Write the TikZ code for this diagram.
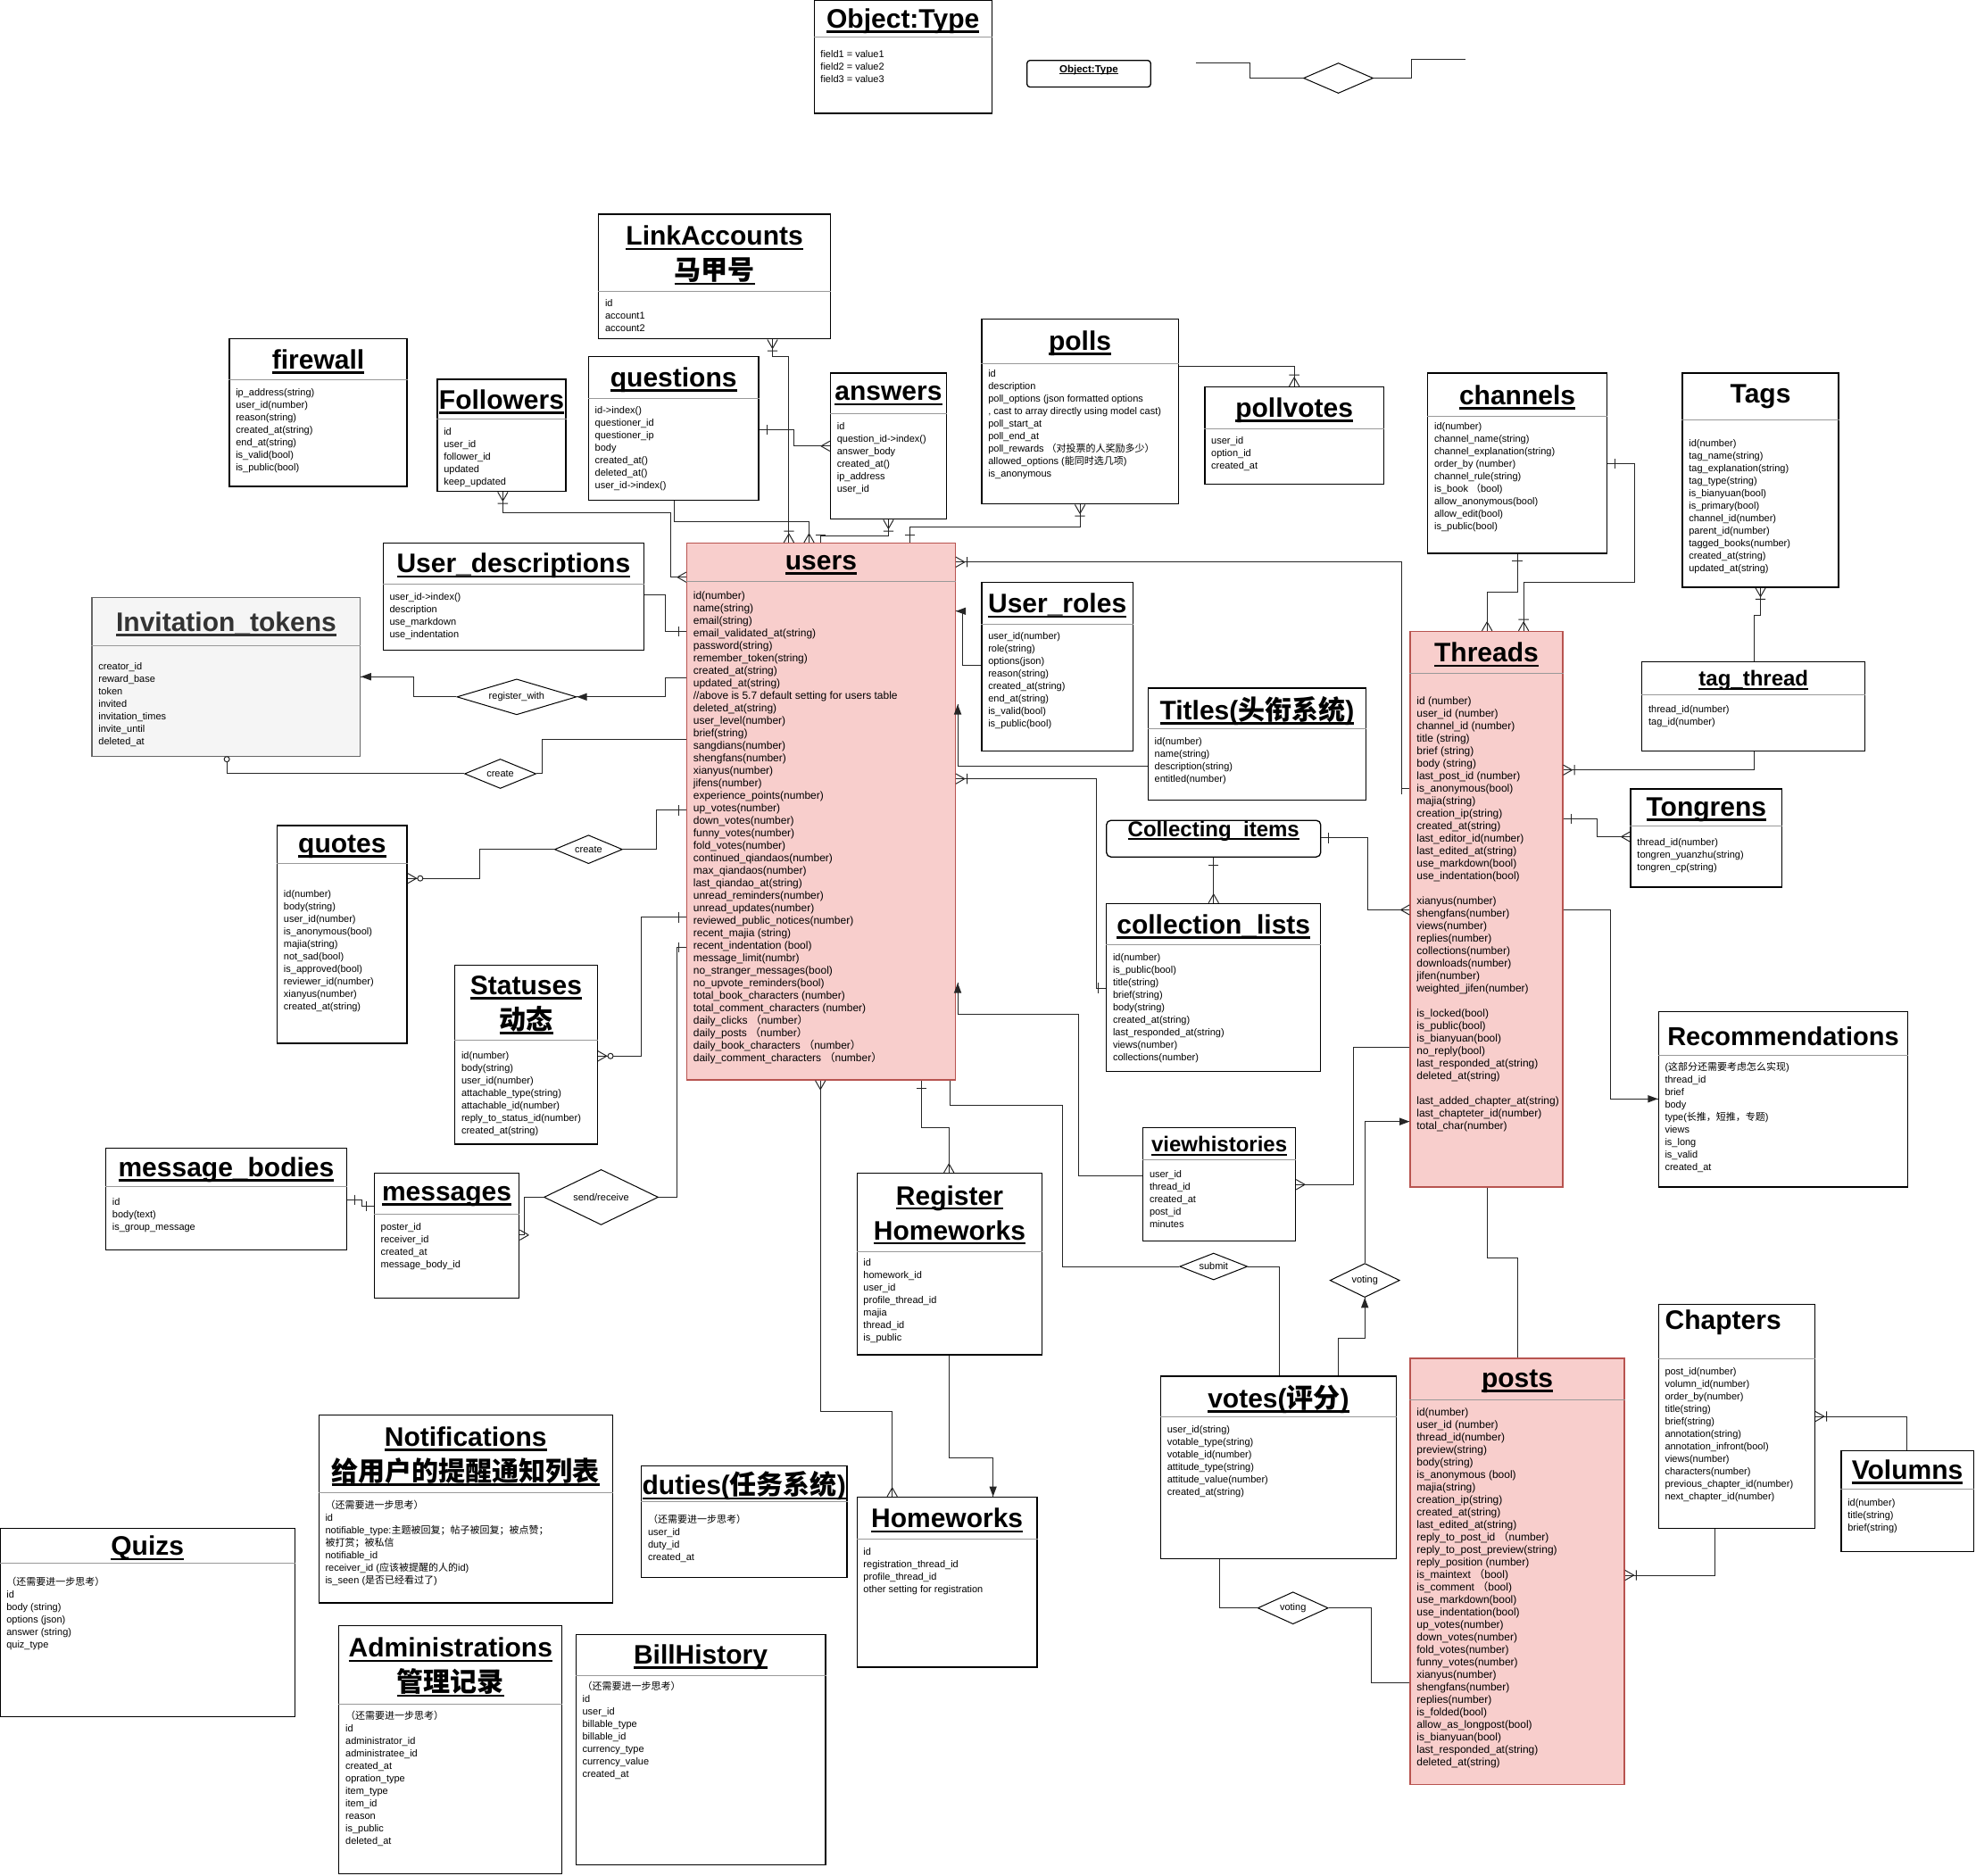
\documentclass[tikz,border=0pt]{standalone}
\usepackage{fontspec}
\setmainfont{Liberation Sans}
\newfontfamily\cjk{Noto Sans CJK SC}
\usetikzlibrary{shapes.geometric,fit,calc}

\definecolor{pinkfill}{HTML}{F8CECC}
\definecolor{pinkline}{HTML}{B85450}
\definecolor{greyfill}{HTML}{F5F5F5}
\definecolor{greyline}{HTML}{666666}

% thick underline for table titles
\newcommand{\tul}[1]{\setbox0=\hbox{#1}\rlap{\vrule width\wd0 height-0.09em depth0.18em}\box0}

\tikzset{
  entbox/.style={draw=black, line width=1.3pt, fill=white, inner sep=0pt},
  headline/.style={draw=black!40, line width=1pt},
  enttitle/.style={font=\bfseries\fontsize{30}{39}\selectfont, align=center, inner sep=0pt, yshift=-3pt},
  entfields/.style={anchor=north west, align=left, inner sep=0pt, font=\fontsize{11}{14}\selectfont},
  pinkent/.style={entbox/.append style={fill=pinkfill, draw=pinkline},
    entfields/.append style={font=\fontsize{12}{14}\selectfont}},
  greyent/.style={entbox/.append style={fill=greyfill, draw=greyline},
    enttitle/.append style={text=black!80}},
  midtitle/.style={enttitle/.append style={font=\bfseries\fontsize{24}{30}\selectfont}},
  rectitle/.style={enttitle/.append style={font=\bfseries\fontsize{29}{34}\selectfont}},
  sidetitle/.style={enttitle/.append style={xshift=-15pt, yshift=13pt}},
  tagtitle/.style={enttitle/.append style={yshift=3pt}},
  rel/.style={diamond, aspect=3, draw=black, line width=1pt, fill=white, inner sep=0pt, font=\fontsize{11}{13}\selectfont},
  conn/.style={draw=black!85, line width=1pt},
  pics/many/.style={code={\draw[conn] (7,0) -- (0,4) (7,0) -- (0,-4);}},
  pics/one/.style={code={\draw[conn] (6,-4) -- (6,4);}},
  pics/onemany/.style={code={\draw[conn] (7,0) -- (0,4) (7,0) -- (0,-4) (9,-4) -- (9,4);}},
  pics/zeromany/.style={code={\draw[conn] (7,0) -- (0,4) (7,0) -- (0,-4);
    \draw[conn, fill=white] (10,0) circle[radius=3pt];}},
  pics/zero/.style={code={\draw[conn, fill=white] (2,0) circle[radius=3pt];}},
  pics/arr/.style={code={\fill[black!85] (0,0) -- (8,3) -- (8,-3) -- cycle;}}
}

% [style]{name}{corners}{header height}{field offset}{title}{fields}
\newcommand{\erbox}[7][]{%
  \begin{scope}[#1]
    \node[entbox, fit={#3}] (#2) {};
    \draw[headline] ($(#2.north west)+(0,#4)$) -- ($(#2.north east)+(0,#4)$);
    \node[enttitle] (#2-t) at ($(#2.north)+(0,#4/2)$) {#6};
    \node[entfields] (#2-f) at ($(#2.north west)+(5.5,#4+#5)$) {#7};
  \end{scope}}

\begin{document}
\catcode`\_=12
\begin{tikzpicture}[x=1.412pt, y=-1.412pt]
\path[use as bounding box, fill=white] (0,0) rectangle (1568,1488);

% legend
\erbox{objtype}{(646,0) (787,90)}{30}{10}{\tul{Object:Type}}{field1 = value1\\field2 = value2\\field3 = value3}
\node[entbox, rounded corners=3pt, fit={(815,48) (913,69)}, font=\bfseries\fontsize{11.5}{14}\selectfont] (smallobj) {\tul{Object:Type}};
\node[rel, minimum width=78pt, minimum height=34pt] (objrel) at (1062,62) {};
\coordinate (objl) at (949,50);
\coordinate (objr) at (1163,47);

% tables
\erbox{linkacc}{(475,170) (659,269)}{62}{6}{\tul{LinkAccounts}\\\tul{\cjk 马甲号}}{id\\account1\\account2}
\erbox{firewall}{(182,269) (323,386)}{33}{7}{\tul{firewall}}{ip_address(string)\\user_id(number)\\reason(string)\\created_at(string)\\end_at(string)\\is_valid(bool)\\is_public(bool)}
\erbox{followers}{(347,301) (449,390)}{32}{7}{\tul{Followers}}{id\\user_id\\follower_id\\updated\\keep_updated}
\erbox{questions}{(467,283) (602,397)}{34}{6}{\tul{questions}}{id->index()\\questioner_id\\questioner_ip\\body\\created_at()\\deleted_at()\\user_id->index()}
\erbox{answers}{(659,296) (751,412)}{33}{7}{\tul{answers}}{id\\question_id->index()\\answer_body\\created_at()\\ip_address\\user_id}
\erbox{polls}{(779,253) (935,400)}{36}{5}{\tul{polls}}{id\\description\\poll_options (json formatted options\\, cast to array directly using model cast)\\poll_start_at\\poll_end_at\\poll_rewards {\cjk （对投票的人奖励多少）}\\allowed_options ({\cjk 能同时选几项})\\is_anonymous}
\erbox{pollvotes}{(956,307) (1098,384)}{34}{6}{\tul{pollvotes}}{user_id\\option_id\\created_at}
\erbox{channels}{(1133,296) (1275,439)}{35}{5}{\tul{channels}}{id(number)\\channel_name(string)\\channel_explanation(string)\\order_by (number)\\channel_rule(string)\\is_book {\cjk （}bool)\\allow_anonymous(bool)\\allow_edit(bool)\\is_public(bool)}
\erbox[tagtitle]{tags}{(1335,296) (1459,466)}{38}{15}{Tags}{id(number)\\tag_name(string)\\tag_explanation(string)\\tag_type(string)\\is_bianyuan(bool)\\is_primary(bool)\\channel_id(number)\\parent_id(number)\\tagged_books(number)\\created_at(string)\\updated_at(string)}
\erbox[pinkent]{users}{(545,431) (758,857)}{31}{8}{\tul{users}}{id(number)\\name(string)\\email(string)\\email_validated_at(string)\\password(string)\\remember_token(string)\\created_at(string)\\updated_at(string)\\//above is 5.7 default setting for users table\\deleted_at(string)\\user_level(number)\\brief(string)\\sangdians(number)\\shengfans(number)\\xianyus(number)\\jifens(number)\\experience_points(number)\\up_votes(number)\\down_votes(number)\\funny_votes(number)\\fold_votes(number)\\continued_qiandaos(number)\\max_qiandaos(number)\\last_qiandao_at(string)\\unread_reminders(number)\\unread_updates(number)\\reviewed_public_notices(number)\\recent_majia (string)\\recent_indentation (bool)\\message_limit(numbr)\\no_stranger_messages(bool)\\no_upvote_reminders(bool)\\total_book_characters (number)\\total_comment_characters (number)\\daily_clicks {\cjk （}number{\cjk ）}\\daily_posts {\cjk （}number{\cjk ）}\\daily_book_characters {\cjk （}number{\cjk ）}\\daily_comment_characters {\cjk （}number{\cjk ）}}
\erbox{userdesc}{(304,431) (511,516)}{33}{7}{\tul{User_descriptions}}{user_id->index()\\description\\use_markdown\\use_indentation}
\erbox[greyent]{invite}{(73,474) (286,600)}{39}{13}{\tul{Invitation_tokens}}{creator_id\\reward_base\\token\\invited\\invitation_times\\invite_until\\deleted_at}
\erbox{userroles}{(779,462) (899,596)}{34}{6}{\tul{User_roles}}{user_id(number)\\role(string)\\options(json)\\reason(string)\\created_at(string)\\end_at(string)\\is_valid(bool)\\is_public(bool)}
\erbox{titles}{(911,546) (1084,635)}{33}{7}{\tul{Titles({\cjk 头衔系统})}}{id(number)\\name(string)\\description(string)\\entitled(number)}
\erbox[pinkent]{threads}{(1119,501) (1240,942)}{34}{18}{\tul{Threads}}{id (number)\\user_id (number)\\channel_id (number)\\title (string)\\brief (string)\\body (string)\\last_post_id (number)\\is_anonymous(bool)\\majia(string)\\creation_ip(string)\\created_at(string)\\last_editor_id(number)\\last_edited_at(string)\\use_markdown(bool)\\use_indentation(bool)\\[14pt]xianyus(number)\\shengfans(number)\\views(number)\\replies(number)\\collections(number)\\downloads(number)\\jifen(number)\\weighted_jifen(number)\\[14pt]is_locked(bool)\\is_public(bool)\\is_bianyuan(bool)\\no_reply(bool)\\last_responded_at(string)\\deleted_at(string)\\[14pt]last_added_chapter_at(string)\\last_chapteter_id(number)\\total_char(number)}
\erbox[midtitle]{tagthread}{(1303,525) (1480,596)}{27}{8}{\tul{tag_thread}}{thread_id(number)\\tag_id(number)}
\erbox{tongrens}{(1294,626) (1414,704)}{30}{10}{\tul{Tongrens}}{thread_id(number)\\tongren_yuanzhu(string)\\tongren_cp(string)}
\node[entbox, rounded corners=5pt, fit={(878,651) (1048,680)}, font=\bfseries\fontsize{24}{30}\selectfont] (collecting) {\tul{Collecting_items}};
\erbox{colllists}{(878,717) (1048,850)}{33}{7}{\tul{collection_lists}}{id(number)\\is_public(bool)\\title(string)\\brief(string)\\body(string)\\created_at(string)\\last_responded_at(string)\\views(number)\\collections(number)}
\erbox{quotes}{(220,655) (323,828)}{31}{21}{\tul{quotes}}{id(number)\\body(string)\\user_id(number)\\is_anonymous(bool)\\majia(string)\\not_sad(bool)\\is_approved(bool)\\reviewer_id(number)\\xianyus(number)\\created_at(string)}
\erbox{statuses}{(361,766) (474,908)}{60}{9}{\tul{Statuses}\\\tul{\cjk 动态}}{id(number)\\body(string)\\user_id(number)\\attachable_type(string)\\attachable_id(number)\\reply_to_status_id(number)\\created_at(string)}
\erbox[rectitle]{recomm}{(1316,803) (1514,942)}{35}{5}{Recommendations}{({\cjk 这部分还需要考虑怎么实现})\\thread_id\\brief\\body\\type({\cjk 长推，短推，专题})\\views\\is_long\\is_valid\\created_at}
\erbox[midtitle]{viewhist}{(907,895) (1028,985)}{26}{8}{\tul{viewhistories}}{user_id\\thread_id\\created_at\\post_id\\minutes}
\erbox{msgbodies}{(84,911) (275,992)}{31}{9}{\tul{message_bodies}}{id\\body(text)\\is_group_message}
\erbox{messages}{(297,931) (412,1030)}{33}{7}{\tul{messages}}{poster_id\\receiver_id\\created_at\\message_body_id}
\erbox{reghw}{(680,931) (827,1075)}{63}{5}{\tul{Register}\\\tul{Homeworks}}{id\\homework_id\\user_id\\profile_thread_id\\majia\\thread_id\\is_public}
\erbox{votes}{(921,1092) (1108,1237)}{33}{7}{\tul{votes({\cjk 评分})}}{user_id(string)\\votable_type(string)\\votable_id(number)\\attitude_type(string)\\attitude_value(number)\\created_at(string)}
\erbox[pinkent]{posts}{(1119,1078) (1289,1416)}{33}{7}{\tul{posts}}{id(number)\\user_id (number)\\thread_id(number)\\preview(string)\\body(string)\\is_anonymous (bool)\\majia(string)\\creation_ip(string)\\created_at(string)\\last_edited_at(string)\\reply_to_post_id {\cjk （}number)\\reply_to_post_preview(string)\\reply_position (number)\\is_maintext {\cjk （}bool)\\is_comment {\cjk （}bool)\\use_markdown(bool)\\use_indentation(bool)\\up_votes(number)\\down_votes(number)\\fold_votes(number)\\funny_votes(number)\\xianyus(number)\\shengfans(number)\\replies(number)\\is_folded(bool)\\allow_as_longpost(bool)\\is_bianyuan(bool)\\last_responded_at(string)\\deleted_at(string)}
\erbox[sidetitle]{chapters}{(1316,1035) (1440,1213)}{44}{7}{Chapters}{post_id(number)\\volumn_id(number)\\order_by(number)\\title(string)\\brief(string)\\annotation(string)\\annotation_infront(bool)\\views(number)\\characters(number)\\previous_chapter_id(number)\\next_chapter_id(number)}
\erbox{volumns}{(1461,1151) (1566,1231)}{31}{8}{\tul{Volumns}}{id(number)\\title(string)\\brief(string)}
\erbox{notif}{(253,1123) (486,1272)}{62}{6}{\tul{Notifications}\\\tul{\cjk 给用户的提醒通知列表}}{{\cjk （还需要进一步思考）}\\id\\notifiable_type:{\cjk 主题被回复；帖子被回复；被点赞；}\\{\cjk 被打赏；被私信}\\notifiable_id\\receiver_id ({\cjk 应该被提醒的人的}id)\\is_seen ({\cjk 是否已经看过了})}
\erbox{quizs}{(0,1213) (234,1362)}{28}{11}{\tul{Quizs}}{{\cjk （还需要进一步思考）}\\id\\body (string)\\options (json)\\answer (string)\\quiz_type}
\erbox{duties}{(509,1163) (672,1252)}{29}{10}{\tul{duties({\cjk 任务系统})}}{{\cjk （还需要进一步思考）}\\user_id\\duty_id\\created_at}
\erbox{homeworks}{(680,1188) (823,1323)}{34}{7}{\tul{Homeworks}}{id\\registration_thread_id\\profile_thread_id\\other setting for registration}
\erbox{admin}{(269,1290) (446,1487)}{63}{5}{\tul{Administrations}\\\tul{\cjk 管理记录}}{{\cjk （还需要进一步思考）}\\id\\administrator_id\\administratee_id\\created_at\\opration_type\\item_type\\item_id\\reason\\is_public\\deleted_at}
\erbox{bill}{(457,1297) (655,1480)}{33}{5}{\tul{BillHistory}}{{\cjk （还需要进一步思考）}\\id\\user_id\\billable_type\\billable_id\\currency_type\\currency_value\\created_at}

% relationships
\node[rel, minimum width=134pt, minimum height=40pt] (regwith) at (410,553) {register_with};
\node[rel, minimum width=80pt, minimum height=33pt] (create1) at (397,614) {create};
\node[rel, minimum width=76pt, minimum height=32pt] (create2) at (467,674) {create};
\node[rel, minimum width=128pt, minimum height=62pt] (sendrecv) at (477,950) {send/receive};
\node[rel, minimum width=76pt, minimum height=30pt] (submit) at (963,1005) {submit};
\node[rel, minimum width=78pt, minimum height=38pt] (voting1) at (1083,1016) {voting};
\node[rel, minimum width=79pt, minimum height=36pt] (voting2) at (1026,1276) {voting};

% connectors
\draw[conn] (objl) -| (992,62) -- (objrel.west);
\draw[conn] (objrel.east) -| (1120,47) -- (objr);
\draw[conn] (613,0 |- linkacc.south) |- (626,283) -- (626,0 |- users.north);
\draw[conn] (535,0 |- questions.south) |- (642,414) -- (642,0 |- users.north);
\draw[conn] (questions.east |- 0,341) -| (630,354) -- (answers.west |- 0,354);
\draw[conn] (705,0 |- answers.south) |- (651,425) -- (651,0 |- users.north);
\draw[conn] (857,0 |- polls.south) |- (722,418) -- (722,0 |- users.north);
\draw[conn] (polls.east |- 0,291) -| (1027,0 |- pollvotes.north);
\draw[conn] (399,0 |- followers.south) |- (532,407) |- (users.west |- 0,458);
\draw[conn] (userdesc.east |- 0,472) -| (528,501) -- (users.west |- 0,501);
\draw[conn] (users.west |- 0,538) -| (528,553) -- (regwith.east);
\draw[conn] (regwith.west) -| (328,537) -- (invite.east |- 0,537);
\draw[conn] (180,0 |- invite.south) |- (create1.west);
\draw[conn] (create1.east) -| (430,587) -- (users.west |- 0,587);
\draw[conn] (quotes.east |- 0,697) -| (381,674) -- (create2.west);
\draw[conn] (create2.east) -| (521,643) -- (users.west |- 0,643);
\draw[conn] (statuses.east |- 0,838) -| (509,728) -- (users.west |- 0,728);
\draw[conn] (messages.east |- 0,980) -| (416,950) -- (sendrecv.west);
\draw[conn] (sendrecv.east) -| (537,752) -- (users.west |- 0,752);
\draw[conn] (msgbodies.east |- 0,952) -| (287,957) -- (messages.west |- 0,957);
\draw[conn] (651,0 |- users.south) |- (708,1120) -- (708,0 |- homeworks.north);
\draw[conn] (731,0 |- users.south) |- (753,895) -- (753,0 |- reghw.north);
\draw[conn] (753,0 |- reghw.south) |- (788,1157) -- (788,0 |- homeworks.north);
\draw[conn] (754,0 |- users.south) |- (843,877) |- (submit.west);
\draw[conn] (submit.east) -| (1015,0 |- votes.north);
\draw[conn] (viewhist.west |- 0,933) -| (856,805) -| ($(users.east |- 0,780)+(1.5,0)$);
\draw[conn] (viewhist.east |- 0,940) -| (1074,831) -- (threads.west |- 0,831);
\draw[conn] (1062,0 |- votes.north) |- (1083,1062) -- (voting1.south);
\draw[conn] (voting1.north) |- (threads.west |- 0,890);
\draw[conn] (968,0 |- votes.south) |- (voting2.west);
\draw[conn] (voting2.east) -| (1088,1335) -- (posts.west |- 0,1335);
\draw[conn] (1180,0 |- threads.south) |- (1204,998) -- (1204,0 |- posts.north);
\draw[conn] (1204,0 |- channels.south) |- (1180,470) -- (1180,0 |- threads.north);
\draw[conn] (channels.east |- 0,368) -| (1297,462) -| (1209,0 |- threads.north);
\draw[conn] (1397,0 |- tags.south) |- (1392,488) -- (1392,0 |- tagthread.north);
\draw[conn] (1392,0 |- tagthread.south) |- (threads.east |- 0,611);
\draw[conn] (threads.east |- 0,650) -| (1267,664) -- (tongrens.west |- 0,664);
\draw[conn] (threads.east |- 0,722) -| (1278,872) -- (recomm.west |- 0,872);
\draw[conn] (collecting.east |- 0,665) -| (1085,722) -- (threads.west |- 0,722);
\draw[conn] (collecting.south) -- (colllists.north);
\draw[conn] (users.east |- 0,446) -| (1112,626) -- (threads.west |- 0,626);
\draw[conn] (userroles.west |- 0,528) -| (764,485) -- (users.east |- 0,485);
\draw[conn] (titles.west |- 0,608) -| ($(users.east |- 0,559)+(1.5,0)$);
\draw[conn] (users.east |- 0,618) -| (870,784) -- (colllists.west |- 0,784);
\draw[conn] (1361,0 |- chapters.south) |- (posts.east |- 0,1250);
\draw[conn] (1513,0 |- volumns.north) |- (chapters.east |- 0,1124);

% end marks
\pic[rotate=270] at (613,0 |- linkacc.south) {onemany};
\pic[rotate=90] at (626,0 |- users.north) {onemany};
\pic[rotate=90] at (642,0 |- users.north) {many};
\pic at (questions.east |- 0,341) {one};
\pic[rotate=180] at (answers.west |- 0,354) {many};
\pic[rotate=270] at (705,0 |- answers.south) {onemany};
\pic[rotate=90] at (651,0 |- users.north) {one};
\pic[rotate=270] at (857,0 |- polls.south) {onemany};
\pic[rotate=90] at (722,0 |- users.north) {one};
\pic[rotate=90] at (1027,0 |- pollvotes.north) {onemany};
\pic[rotate=270] at (399,0 |- followers.south) {onemany};
\pic[rotate=180] at (users.west |- 0,458) {many};
\pic[rotate=180] at (users.west |- 0,501) {one};
\pic at (regwith.east) {arr};
\pic at (invite.east |- 0,537) {arr};
\pic[rotate=270] at (180,0 |- invite.south) {zero};
\pic at (quotes.east |- 0,697) {zeromany};
\pic[rotate=180] at (users.west |- 0,643) {one};
\pic at (statuses.east |- 0,838) {zeromany};
\pic[rotate=180] at (users.west |- 0,728) {one};
\pic at (messages.east |- 0,980) {many};
\pic[rotate=180] at (users.west |- 0,752) {one};
\pic at (msgbodies.east |- 0,952) {one};
\pic[rotate=180] at (messages.west |- 0,957) {one};
\pic[rotate=270] at (651,0 |- users.south) {many};
\pic[rotate=90] at (708,0 |- homeworks.north) {many};
\pic[rotate=270] at (731,0 |- users.south) {one};
\pic[rotate=90] at (753,0 |- reghw.north) {many};
\pic[rotate=90] at (788,0 |- homeworks.north) {arr};
\pic[rotate=270] at ($(users.east |- 0,780)+(1.5,0)$) {arr};
\pic at (viewhist.east |- 0,940) {many};
\pic[rotate=270] at (voting1.south) {arr};
\pic[rotate=180] at (threads.west |- 0,890) {arr};
\pic[rotate=270] at (1204,0 |- channels.south) {one};
\pic[rotate=90] at (1180,0 |- threads.north) {many};
\pic at (channels.east |- 0,368) {one};
\pic[rotate=90] at (1209,0 |- threads.north) {onemany};
\pic[rotate=270] at (1397,0 |- tags.south) {onemany};
\pic at (threads.east |- 0,611) {onemany};
\pic at (threads.east |- 0,650) {one};
\pic[rotate=180] at (tongrens.west |- 0,664) {many};
\pic[rotate=180] at (recomm.west |- 0,872) {arr};
\pic at (collecting.east |- 0,665) {one};
\pic[rotate=180] at (threads.west |- 0,722) {many};
\pic[rotate=270] at (collecting.south) {one};
\pic[rotate=90] at (colllists.north) {many};
\pic at (users.east |- 0,446) {onemany};
\pic[rotate=180] at (threads.west |- 0,626) {one};
\pic at (users.east |- 0,485) {arr};
\pic[rotate=270] at ($(users.east |- 0,559)+(1.5,0)$) {arr};
\pic at (users.east |- 0,618) {onemany};
\pic[rotate=180] at (colllists.west |- 0,784) {one};
\pic at (posts.east |- 0,1250) {onemany};
\pic at (chapters.east |- 0,1124) {onemany};
\end{tikzpicture}
\end{document}
